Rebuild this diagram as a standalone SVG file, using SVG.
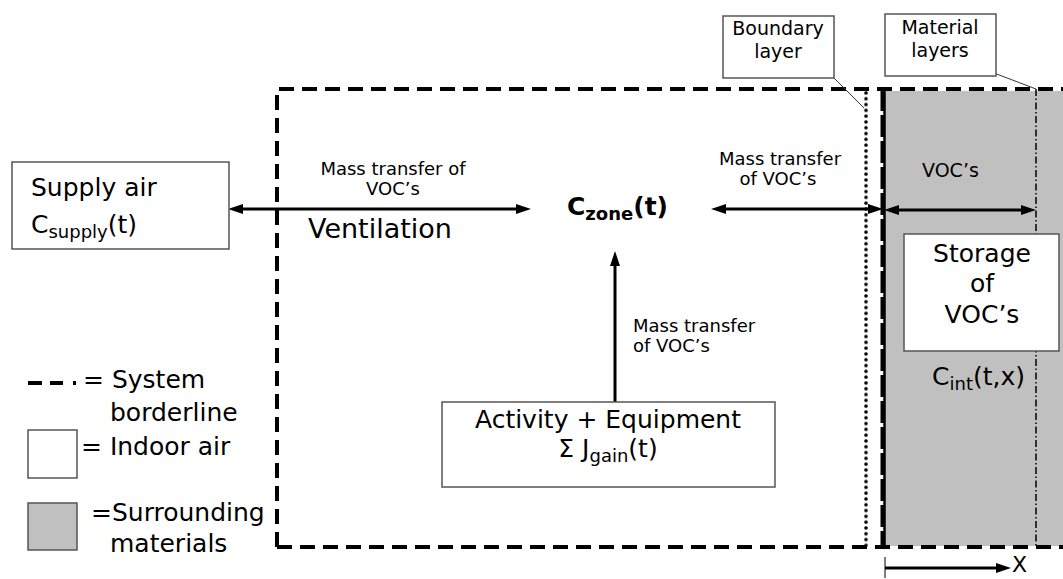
<svg xmlns="http://www.w3.org/2000/svg" width="1063" height="579" viewBox="0 0 1063 579">
  <defs>
    <marker id="head" markerUnits="userSpaceOnUse" markerWidth="15" markerHeight="10" refX="6" refY="5" orient="auto-start-reverse" viewBox="0 0 15 10">
      <path d="M0,0 L15,5 L0,10 z" fill="#000"/>
    </marker>
    <pattern id="dots" patternUnits="userSpaceOnUse" x="864" y="90" width="4" height="5.8">
      <circle cx="2" cy="2.9" r="1.8" fill="#000"/>
    </pattern>
  </defs>
  <style>
    text { font-family: "DejaVu Sans", Verdana, sans-serif; fill: #000; }
    .big { font-size: 25px; }
    .small { font-size: 18px; }
    .label { font-size: 19px; }
    .sub { font-size: 18px; }
    .mid { text-anchor: middle; }
    .box { fill: #fff; stroke: #555; stroke-width: 1.5; }
    .arrow { stroke: #000; stroke-width: 3; fill: none; }
    .border { stroke: #000; stroke-width: 4; stroke-dasharray: 15 8; fill: none; }
    .leader { stroke: #333; stroke-width: 1; fill: none; }
  </style>

  <rect width="1063" height="579" fill="#fff"/>

  <!-- wall materials region -->
  <rect id="materials" x="884" y="91" width="179" height="455" fill="#c0c0c0"/>

  <!-- system borderline -->
  <path class="border" d="M277,547 V89 H1063 M277,547 H1063"/>
  <!-- boundary layer (dotted) -->
  <rect x="864" y="90" width="4" height="457" fill="url(#dots)"/>
  <!-- wall surface -->
  <line x1="884.5" y1="89" x2="884.5" y2="547" stroke="#000" stroke-width="2.5"/>
  <line x1="882.5" y1="89" x2="882.5" y2="547" stroke="#000" stroke-width="4" stroke-dasharray="22 4"/>
  <!-- material layer interface -->
  <line x1="1036" y1="89" x2="1036" y2="547" stroke="#000" stroke-width="1.5" stroke-dasharray="7 2.5 1.5 2.5"/>

  <g id="connectors">
    <line class="arrow" x1="237" y1="209" x2="522" y2="209" marker-start="url(#head)" marker-end="url(#head)"/>
    <line class="arrow" x1="720" y1="209" x2="874" y2="209" marker-start="url(#head)" marker-end="url(#head)"/>
    <line class="arrow" x1="893" y1="210" x2="1027" y2="210" marker-start="url(#head)" marker-end="url(#head)"/>
    <line class="arrow" x1="615" y1="402" x2="615" y2="260" marker-end="url(#head)"/>
    <line class="leader" x1="834" y1="78" x2="864" y2="108"/>
    <line class="leader" x1="994" y1="73" x2="1036" y2="89"/>
  </g>

  <!-- labels on the transfer paths -->
  <g id="transfer-labels">
    <text class="small mid" x="393" y="175">Mass transfer of</text>
    <text class="small mid" x="393" y="195">VOC’s</text>
    <text class="mid" x="380" y="238" font-size="27">Ventilation</text>
    <text class="small mid" x="780" y="165">Mass transfer</text>
    <text class="small mid" x="778" y="185">of VOC’s</text>
    <text class="small" x="633" y="332">Mass transfer</text>
    <text class="small" x="633" y="352">of VOC’s</text>
    <text class="label" x="922" y="177">VOC’s</text>
  </g>

  <g id="supply-air">
    <rect class="box" x="12" y="162" width="217" height="87"/>
    <text class="big" x="31" y="196">Supply air</text>
    <text class="big" x="31" y="233">C<tspan class="sub" dy="5">supply</tspan><tspan dy="-5">(t)</tspan></text>
  </g>

  <g id="zone">
    <text class="big" x="567" y="215" font-weight="bold">C<tspan class="sub" dy="5">zone</tspan><tspan dy="-5">(t)</tspan></text>
  </g>

  <g id="activity">
    <rect class="box" x="442" y="402" width="333" height="85"/>
    <text class="big mid" x="608" y="428">Activity + Equipment</text>
    <text class="big mid" x="608" y="457">Σ J<tspan class="sub" dy="5">gain</tspan><tspan dy="-5">(t)</tspan></text>
  </g>

  <g id="boundary-label">
    <rect class="box" x="723" y="16" width="111" height="62"/>
    <text class="label mid" x="778" y="35">Boundary</text>
    <text class="label mid" x="778" y="58">layer</text>
  </g>

  <g id="material-label">
    <rect class="box" x="885" y="14" width="111" height="62"/>
    <text class="label mid" x="940" y="34">Material</text>
    <text class="label mid" x="940" y="57">layers</text>
  </g>

  <g id="storage">
    <rect class="box" x="904" y="234" width="155" height="117"/>
    <text class="big mid" x="982" y="262">Storage</text>
    <text class="big mid" x="982" y="292">of</text>
    <text class="big mid" x="982" y="323">VOC’s</text>
    <text class="big" x="932" y="385">C<tspan class="sub" dy="5">int</tspan><tspan dy="-5">(t,x)</tspan></text>
  </g>

  <g id="x-axis">
    <line x1="885" y1="557" x2="885" y2="578" stroke="#555" stroke-width="1.5"/>
    <line class="arrow" x1="885" y1="568" x2="1002" y2="568" marker-end="url(#head)"/>
    <text x="1012" y="572" font-size="22">X</text>
  </g>

  <g id="legend">
    <path d="M28,383 H78" stroke="#000" stroke-width="4" stroke-dasharray="14 8 13 10 3 100"/>
    <text class="big" x="83" y="388">= System</text>
    <text class="big" x="110" y="421">borderline</text>
    <rect class="box" x="28" y="430" width="49" height="48"/>
    <text class="big" x="81" y="455">= Indoor air</text>
    <rect x="28" y="503" width="49" height="47" fill="#c0c0c0" stroke="#555" stroke-width="1.5"/>
    <text class="big" x="91" y="521">=Surrounding</text>
    <text class="big" x="110" y="552">materials</text>
  </g>
</svg>
